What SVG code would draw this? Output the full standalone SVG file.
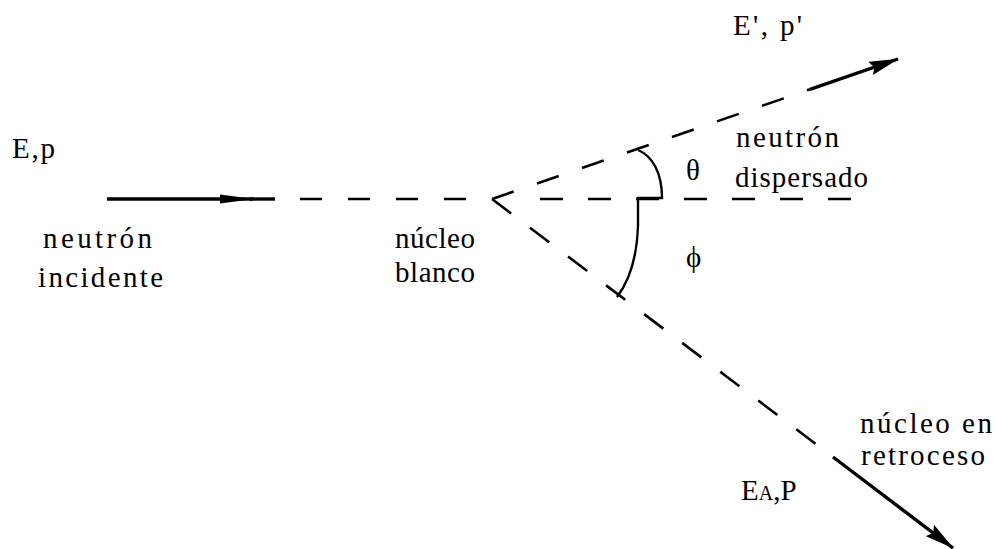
<svg xmlns="http://www.w3.org/2000/svg" width="995" height="549" viewBox="0 0 995 549">
<defs>
<style>
text{font-family:"Liberation Serif","Times New Roman",serif;font-size:29px;fill:#000}
.d{fill:none;stroke:#000;stroke-width:2.6}
.s{fill:none;stroke:#000;stroke-width:3.4}
.a{fill:none;stroke:#000;stroke-width:2.4}
</style>
<marker id="hd" markerUnits="userSpaceOnUse" markerWidth="30" markerHeight="14" viewBox="0 0 30 14" refX="29" refY="7" orient="auto">
<path d="M0,0 L30,7 L0,14 L4,7 Z" fill="#000"/>
</marker>
<marker id="hn" markerUnits="userSpaceOnUse" markerWidth="34" markerHeight="10" viewBox="0 0 34 10" refX="33" refY="5" orient="auto">
<path d="M0,0.5 L34,5 L0,9.5 Z" fill="#000"/>
</marker>
</defs>
<rect width="995" height="549" fill="#fff"/>
<g id="connectors">
<path class="s" d="M107,199 L253,199" marker-end="url(#hn)"/>
<path class="s" d="M250,199 L275,199"/>
<path class="d" d="M300,199 L466,199" stroke-dasharray="22 26"/>
<path class="d" d="M540,199 L853,199" stroke-dasharray="23 25"/>
<path class="d" d="M492,199 L810,89.3" stroke-dasharray="23 24.6"/>
<path class="s" d="M810,89.3 L898,59" marker-end="url(#hd)"/>
<path class="d" d="M492,199 L833,457" stroke-dasharray="24 23.7"/>
<path class="s" d="M833,457 L953,548" marker-end="url(#hd)"/>
<path class="a" d="M638,150 C652,156 662,172 662,198 L638,198 L638,226 C637,255 630,280 617,297"/>
</g>
<g id="incident">
<text x="12" y="158" textLength="43">E,p</text>
<text x="43" y="248" textLength="109">neutrón</text>
<text x="38" y="287" textLength="125">incidente</text>
</g>
<g id="target">
<text x="395" y="248" textLength="80">núcleo</text>
<text x="395" y="282" textLength="80">blanco</text>
</g>
<g id="scattered">
<text x="733" y="35" textLength="69">E', p'</text>
<text x="736" y="147" textLength="103">neutrón</text>
<text x="735" y="187" textLength="133">dispersado</text>
</g>
<g id="angles">
<text x="686" y="180" font-size="30">θ</text>
<text x="686" y="267" font-size="30">ϕ</text>
</g>
<g id="recoil">
<text x="860" y="433" textLength="132">núcleo en</text>
<text x="861" y="465" textLength="124">retroceso</text>
<text x="741" y="500">E<tspan font-size="20">A</tspan>,P</text>
</g>
</svg>
